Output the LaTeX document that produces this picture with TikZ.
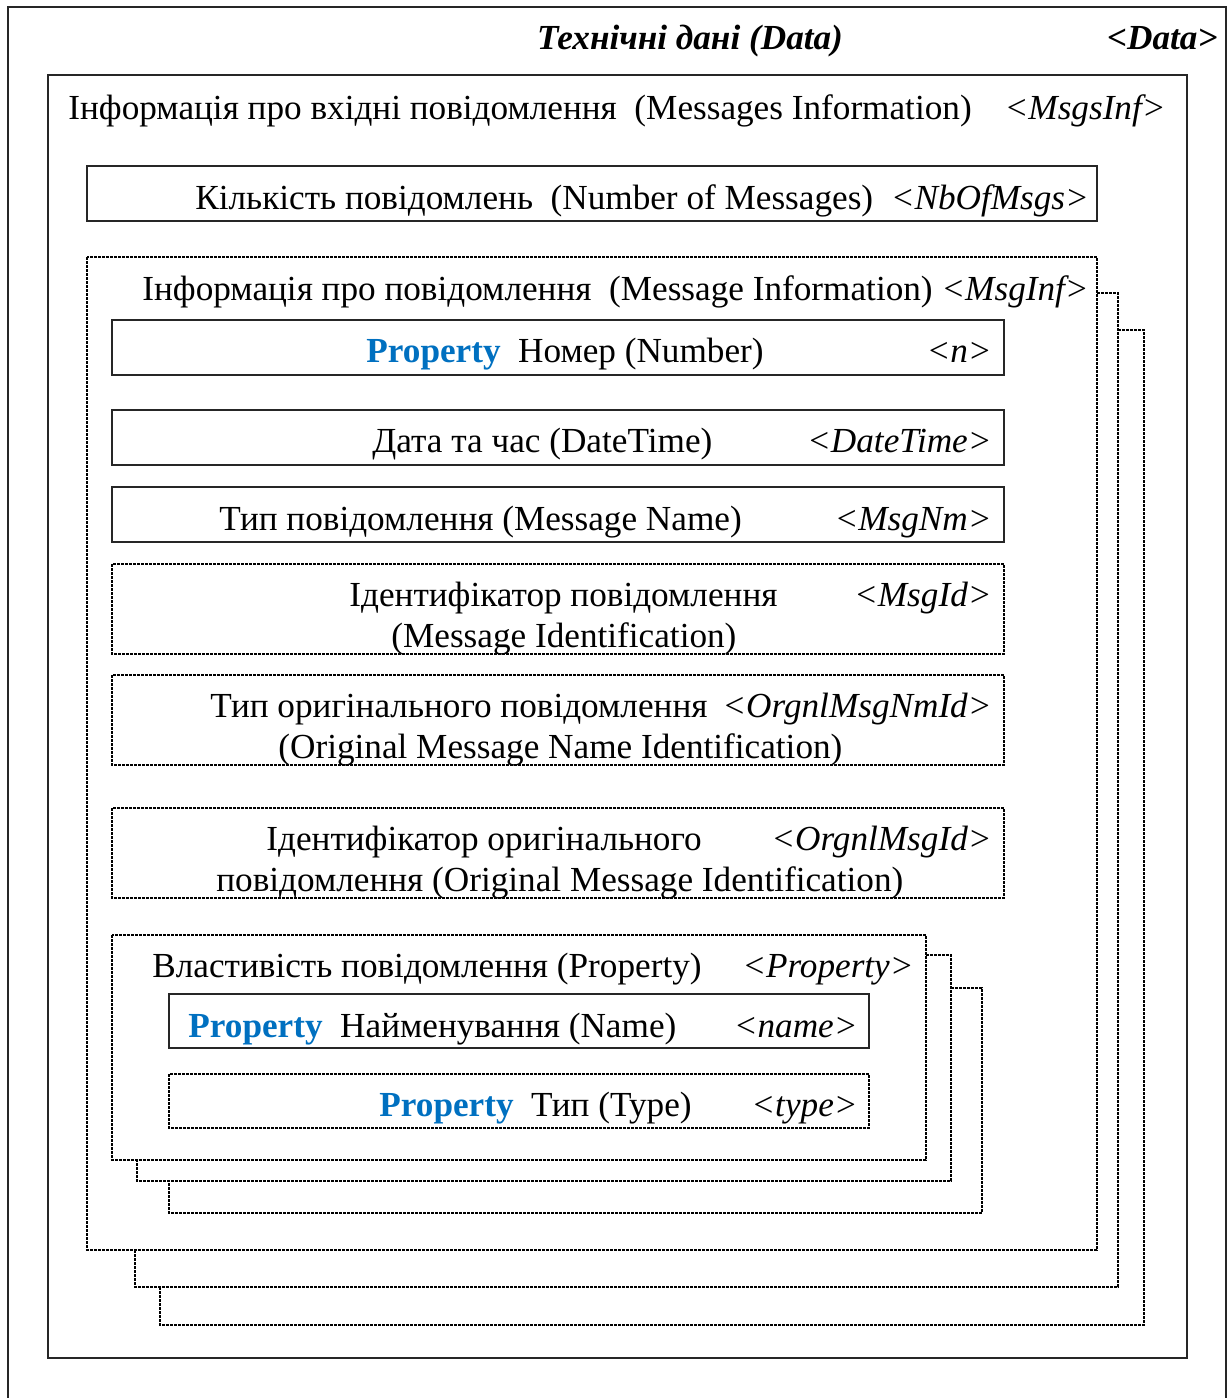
\documentclass[tikz,border=0pt]{standalone}
\usepackage{fontspec}
\setmainfont{Liberation Serif}
\definecolor{propblue}{RGB}{0,112,192}
\newcommand{\prop}{\textcolor{propblue}{\textbf{Property}}}
\tikzset{
  solidbox/.style={draw=black!85, line width=0.6pt},
  dotbox/.style={draw=black, line width=0.7pt, dash pattern=on 1.5pt off 0.5pt},
  lbl/.style={inner sep=0pt, anchor=base west},
  tag/.style={inner sep=0pt, anchor=base east, font=\itshape}
}
\begin{document}
\fontsize{17.6}{21}\selectfont
\begin{tikzpicture}[x=0.5pt,y=-0.5pt]
    \useasboundingbox (0,0) rectangle (1231,1398);
    % outer frame, open at the bottom
    \draw [solidbox] (8,1398) -- (8,7) -- (1226,7) -- (1226,1398);
    \node (data) [inner sep=0pt, anchor=base, font=\bfseries\itshape] at (690,49) {Технічні дані (Data)};
    \node (datatag) [inner sep=0pt, anchor=base east, font=\bfseries\itshape] at (1218,49) {<Data>};
    % messages information
    \draw [solidbox] (48,75) rectangle (1187,1358);
    \node (msgsinf) [lbl] at (68,119) {Інформація про вхідні повідомлення\ \ (Messages Information)};
    \node (msgsinftag) [tag] at (1166,119) {<MsgsInf>};
    \draw [solidbox] (87,166) rectangle (1097,221);
    \node (nbofmsgs) [lbl] at (195,209) {Кількість повідомлень\ \ (Number of Messages)\ \ \textit{<NbOfMsgs>}};
    % message information, repeated
    \draw [dotbox] (1097,293) -- (1118,293) -- (1118,1287) -- (135,1287) -- (135,1250);
    \draw [dotbox] (1118,330) -- (1144,330) -- (1144,1325) -- (160,1325) -- (160,1287);
    \draw [dotbox] (87,257) rectangle (1097,1250);
    \node (msginf) [lbl] at (142,300) {Інформація про повідомлення\ \ (Message Information) \textit{<MsgInf>}};
    \draw [solidbox] (112,320) rectangle (1004,375);
    \node (number) [lbl] at (366,362) {\prop\ \ Номер (Number)};
    \node (numbertag) [tag] at (992,362) {<n>};
    \draw [solidbox] (112,410) rectangle (1004,465);
    \node (datetime) [lbl] at (372,452) {Дата та час (DateTime)};
    \node (datetimetag) [tag] at (992,452) {<DateTime>};
    \draw [solidbox] (112,487) rectangle (1004,542);
    \node (msgnm) [lbl] at (219,530) {Тип повідомлення (Message Name)};
    \node (msgnmtag) [tag] at (992,530) {<MsgNm>};
    \draw [dotbox] (112,564) rectangle (1004,654);
    \node (msgid) [lbl] at (349,606) {Ідентифікатор повідомлення};
    \node (msgid2) [lbl] at (391,647) {(Message Identification)};
    \node (msgidtag) [tag] at (992,606) {<MsgId>};
    \draw [dotbox] (112,675) rectangle (1004,765);
    \node (orgnm) [lbl] at (210,717) {Тип оригінального повідомлення};
    \node (orgnm2) [lbl] at (278,758) {(Original Message Name Identification)};
    \node (orgnmtag) [tag] at (992,717) {<OrgnlMsgNmId>};
    \draw [dotbox] (112,808) rectangle (1004,898);
    \node (orgid) [lbl] at (266,850) {Ідентифікатор оригінального};
    \node (orgid2) [lbl] at (216,891) {повідомлення (Original Message Identification)};
    \node (orgidtag) [tag] at (992,850) {<OrgnlMsgId>};
    % property, repeated
    \draw [dotbox] (926,955) -- (951,955) -- (951,1181) -- (137,1181) -- (137,1160);
    \draw [dotbox] (951,988) -- (982,988) -- (982,1213) -- (169,1213) -- (169,1181);
    \draw [dotbox] (112,935) rectangle (926,1160);
    \node (property) [lbl] at (152,977) {Властивість повідомлення (Property)};
    \node (propertytag) [tag] at (914,977) {<Property>};
    \draw [solidbox] (169,994) rectangle (869,1048);
    \node (name) [lbl] at (188,1037) {\prop\ \ Найменування (Name)};
    \node (nametag) [tag] at (858,1037) {<name>};
    \draw [dotbox] (169,1074) rectangle (869,1128);
    \node (type) [lbl] at (379,1116) {\prop\ \ Тип (Type)};
    \node (typetag) [tag] at (858,1116) {<type>};
\end{tikzpicture}
\end{document}
